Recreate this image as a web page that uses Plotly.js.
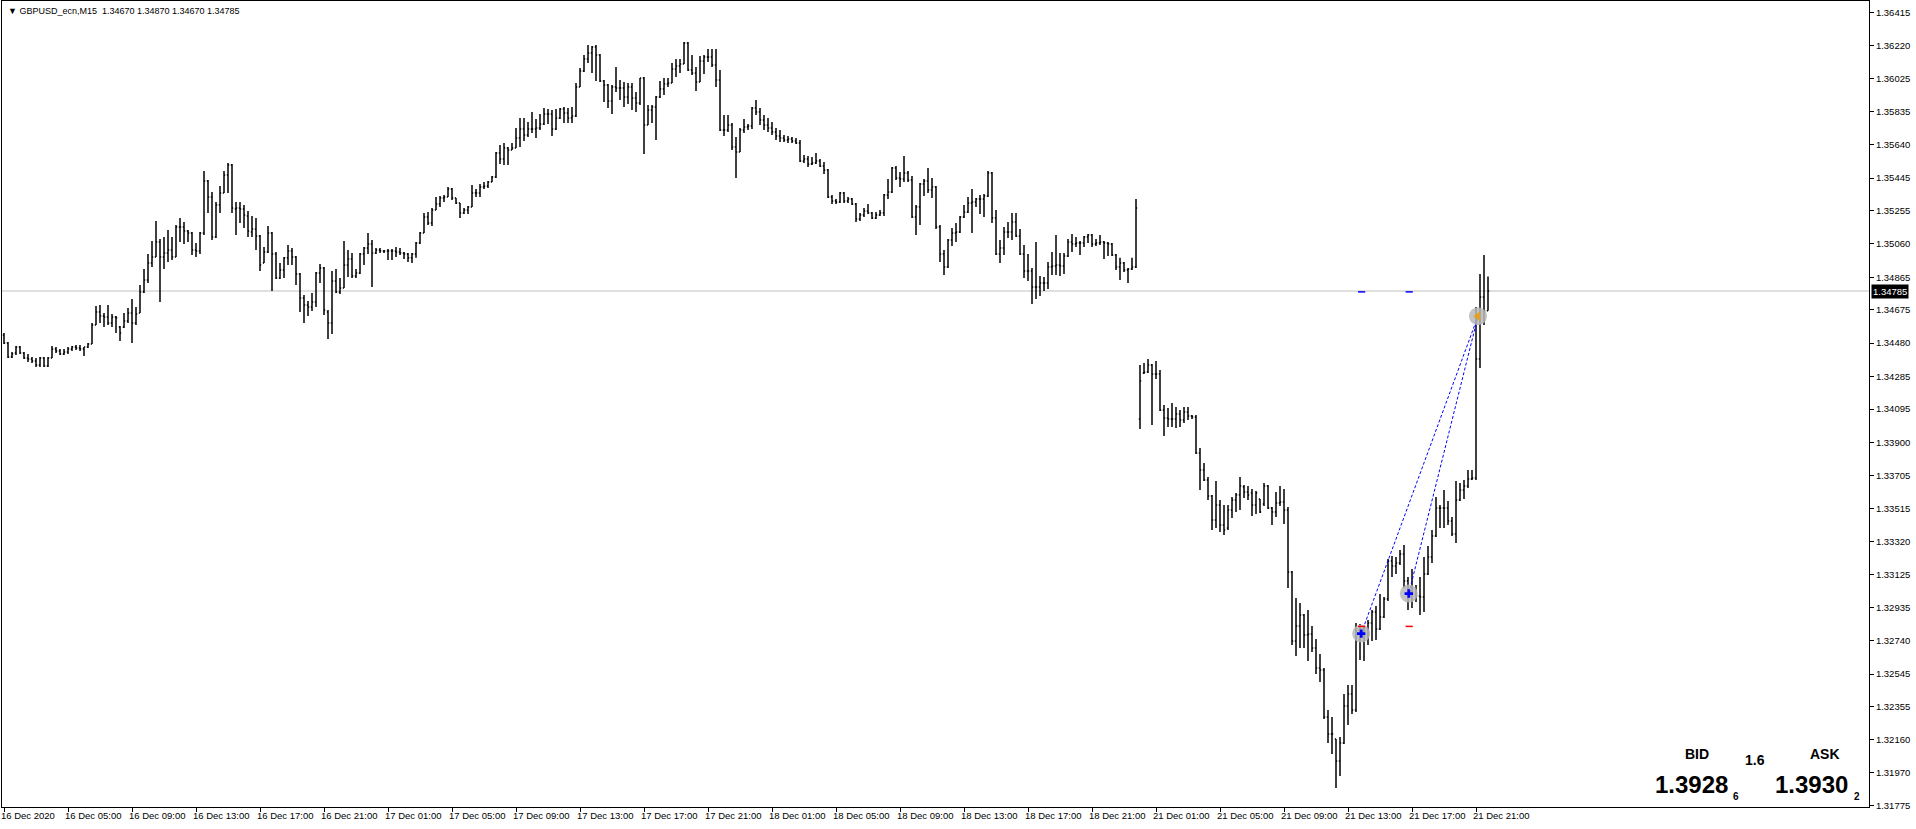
<!DOCTYPE html>
<html><head><meta charset="utf-8">
<script src="https://cdn.plot.ly/plotly-3.0.1.min.js"></script>
<style>html,body{margin:0;padding:0;background:#fff;overflow:hidden}#chart{width:1916px;height:829px}</style>
</head><body><div id="chart"></div>
<script>
const symbolName = 'GBPUSD_ecn,M15';
const opens = [
1.34528,1.34481,1.34399,1.34423,1.34458,1.34423,1.34393,1.34387,1.34376,1.34352,
1.34393,1.34347,1.34393,1.34446,1.34434,1.34417,1.34428,1.34446,1.34458,1.34452,
1.34446,1.34458,1.34475,1.34586,1.34662,1.34639,1.34633,1.34598,1.34633,1.34575,
1.34575,1.34610,1.34656,1.34598,1.34656,1.34779,1.34849,1.34949,1.34984,1.35072,
1.34984,1.35007,1.35025,1.34984,1.35159,1.35159,1.35136,1.35124,1.35025,1.35019,
1.35124,1.35428,1.35335,1.35101,1.35288,1.35358,1.35463,1.35522,1.35264,1.35270,
1.35264,1.35224,1.35130,1.35148,1.35107,1.34949,1.35013,1.35124,1.35001,1.34861,
1.34908,1.34979,1.35019,1.34984,1.34884,1.34744,1.34703,1.34691,1.34721,1.34890,
1.34920,1.34662,1.34598,1.34844,1.34779,1.34803,1.34937,1.34972,1.34873,1.34890,
1.35001,1.35037,1.35060,1.35007,1.35025,1.35019,1.35019,1.35019,1.35019,1.35013,
1.35007,1.35001,1.34979,1.35001,1.35066,1.35124,1.35218,1.35183,1.35259,1.35294,
1.35329,1.35335,1.35381,1.35329,1.35300,1.35241,1.35259,1.35276,1.35358,1.35358,
1.35393,1.35399,1.35422,1.35452,1.35592,1.35557,1.35621,1.35610,1.35621,1.35680,
1.35732,1.35697,1.35732,1.35732,1.35738,1.35762,1.35820,1.35820,1.35732,1.35797,
1.35849,1.35826,1.35797,1.35808,1.35978,1.36071,1.36142,1.36177,1.36212,1.36165,
1.36013,1.35990,1.35896,1.35978,1.35972,1.35972,1.35919,1.35978,1.35913,1.35884,
1.36030,1.35756,1.35843,1.35861,1.35919,1.35966,1.35995,1.36001,1.36083,1.36101,
1.36112,1.36235,1.36077,1.36060,1.36007,1.36130,1.36153,1.36153,1.36107,1.36019,
1.35726,1.35726,1.35756,1.35627,1.35598,1.35726,1.35744,1.35750,1.35855,1.35832,
1.35785,1.35756,1.35738,1.35715,1.35691,1.35680,1.35668,1.35674,1.35662,1.35650,
1.35545,1.35557,1.35528,1.35534,1.35545,1.35516,1.35493,1.35335,1.35311,1.35305,
1.35358,1.35311,1.35323,1.35294,1.35206,1.35229,1.35253,1.35241,1.35212,1.35229,
1.35241,1.35346,1.35364,1.35504,1.35446,1.35440,1.35475,1.35434,1.35218,1.35276,
1.35411,1.35428,1.35376,1.35393,1.35159,1.35001,1.34925,1.35083,1.35124,1.35130,
1.35218,1.35247,1.35300,1.35305,1.35323,1.35323,1.35341,1.35475,1.35212,1.35001,
1.35037,1.35130,1.35130,1.35188,1.35107,1.35001,1.34902,1.34902,1.34808,1.34808,
1.34832,1.34832,1.34925,1.34931,1.34937,1.34931,1.34990,1.35072,1.35060,1.35066,
1.35066,1.35101,1.35113,1.35060,1.35066,1.35072,1.35066,1.35060,1.34996,1.34925,
1.34949,1.34908,1.34914,1.34925,1.34037,1.34306,1.34311,1.34352,1.34300,1.34300,
1.34089,1.34042,1.34037,1.34037,1.34066,1.34031,1.34078,1.34054,1.34048,1.33838,
1.33738,1.33680,1.33586,1.33446,1.33534,1.33417,1.33399,1.33505,1.33563,1.33592,
1.33639,1.33610,1.33604,1.33534,1.33569,1.33540,1.33645,1.33516,1.33493,1.33545,
1.33551,1.33505,1.33142,1.32739,1.32826,1.32891,1.32774,1.32780,1.32698,1.32581,
1.32569,1.32294,1.32195,1.32166,1.32037,1.32142,1.32359,1.32429,1.32335,1.32803,
1.32791,1.32815,1.32844,1.32908,1.32809,1.32879,1.32984,1.33206,1.33177,1.33195,
1.33247,1.33089,1.33025,1.33014,1.33002,1.32996,1.33130,1.33230,1.33353,1.33516,
1.33516,1.33516,1.33440,1.33364,1.33563,1.33622,1.33645,1.33686,1.33692,1.34387,
1.34750,1.34670];
const highs = [
1.34540,1.34487,1.34428,1.34464,1.34464,1.34428,1.34417,1.34399,1.34393,1.34399,
1.34399,1.34399,1.34464,1.34458,1.34446,1.34446,1.34458,1.34464,1.34469,1.34469,
1.34458,1.34481,1.34598,1.34697,1.34703,1.34656,1.34703,1.34651,1.34639,1.34580,
1.34656,1.34686,1.34738,1.34691,1.34820,1.34914,1.35001,1.35077,1.35194,1.35089,
1.35101,1.35142,1.35101,1.35171,1.35212,1.35188,1.35142,1.35130,1.35066,1.35130,
1.35487,1.35434,1.35364,1.35305,1.35399,1.35487,1.35534,1.35528,1.35305,1.35305,
1.35288,1.35253,1.35224,1.35212,1.35113,1.35042,1.35165,1.35130,1.35013,1.34949,
1.34984,1.35054,1.35037,1.34990,1.34890,1.34762,1.34727,1.34773,1.34896,1.34943,
1.34925,1.34674,1.34902,1.34914,1.34861,1.35077,1.35025,1.35007,1.34914,1.35007,
1.35042,1.35124,1.35083,1.35037,1.35037,1.35025,1.35031,1.35031,1.35042,1.35037,
1.35013,1.35007,1.35007,1.35072,1.35130,1.35241,1.35247,1.35270,1.35335,1.35341,
1.35346,1.35393,1.35387,1.35329,1.35300,1.35270,1.35282,1.35405,1.35381,1.35411,
1.35422,1.35428,1.35457,1.35598,1.35639,1.35650,1.35627,1.35650,1.35738,1.35797,
1.35797,1.35773,1.35832,1.35791,1.35820,1.35855,1.35849,1.35843,1.35849,1.35855,
1.35861,1.35855,1.35861,1.36001,1.36089,1.36165,1.36223,1.36218,1.36223,1.36171,
1.36019,1.35995,1.35990,1.36095,1.36019,1.36007,1.36001,1.36001,1.35949,1.36030,
1.36036,1.35873,1.35873,1.35925,1.36013,1.36030,1.36030,1.36118,1.36142,1.36142,
1.36241,1.36241,1.36165,1.36095,1.36159,1.36165,1.36200,1.36200,1.36200,1.36077,
1.35814,1.35814,1.35767,1.35685,1.35738,1.35791,1.35762,1.35861,1.35902,1.35855,
1.35814,1.35797,1.35773,1.35738,1.35726,1.35697,1.35691,1.35685,1.35680,1.35668,
1.35580,1.35574,1.35569,1.35592,1.35557,1.35539,1.35498,1.35346,1.35323,1.35364,
1.35364,1.35335,1.35329,1.35300,1.35241,1.35270,1.35294,1.35247,1.35247,1.35259,
1.35352,1.35440,1.35510,1.35516,1.35481,1.35574,1.35487,1.35457,1.35288,1.35416,
1.35440,1.35504,1.35446,1.35399,1.35171,1.35025,1.35089,1.35153,1.35183,1.35224,
1.35288,1.35335,1.35381,1.35329,1.35346,1.35352,1.35487,1.35481,1.35259,1.35083,
1.35159,1.35188,1.35241,1.35241,1.35148,1.35054,1.35001,1.34920,1.35072,1.34873,
1.34867,1.34955,1.35013,1.35113,1.35007,1.35007,1.35089,1.35118,1.35101,1.35077,
1.35107,1.35118,1.35118,1.35089,1.35113,1.35077,1.35072,1.35066,1.35001,1.34979,
1.34955,1.34920,1.34979,1.35323,1.34352,1.34364,1.34387,1.34358,1.34376,1.34323,
1.34118,1.34101,1.34130,1.34107,1.34089,1.34107,1.34107,1.34060,1.34060,1.33867,
1.33779,1.33698,1.33592,1.33674,1.33563,1.33534,1.33534,1.33581,1.33604,1.33698,
1.33651,1.33645,1.33627,1.33616,1.33569,1.33662,1.33651,1.33522,1.33610,1.33645,
1.33627,1.33522,1.33148,1.32990,1.32961,1.32896,1.32920,1.32826,1.32750,1.32663,
1.32581,1.32335,1.32294,1.32166,1.32177,1.32429,1.32481,1.32481,1.32844,1.32838,
1.32826,1.32861,1.32920,1.32943,1.33013,1.32996,1.33218,1.33236,1.33230,1.33271,
1.33300,1.33113,1.33160,1.33066,1.33113,1.33230,1.33294,1.33388,1.33581,1.33534,
1.33622,1.33557,1.33464,1.33674,1.33662,1.33680,1.33738,1.33738,1.34691,1.34884,
1.34996,1.34870];
const lows = [
1.34475,1.34393,1.34393,1.34411,1.34417,1.34387,1.34370,1.34364,1.34341,1.34341,
1.34341,1.34341,1.34393,1.34423,1.34411,1.34411,1.34417,1.34434,1.34440,1.34434,
1.34405,1.34452,1.34475,1.34586,1.34598,1.34575,1.34586,1.34575,1.34540,1.34493,
1.34569,1.34598,1.34481,1.34586,1.34656,1.34773,1.34832,1.34925,1.34984,1.34721,
1.34914,1.34955,1.34966,1.34984,1.35072,1.35060,1.35072,1.34996,1.34984,1.35001,
1.35113,1.35241,1.35083,1.35095,1.35241,1.35358,1.35358,1.35241,1.35113,1.35183,
1.35153,1.35101,1.35101,1.35025,1.34902,1.34949,1.35007,1.34785,1.34855,1.34855,
1.34861,1.34937,1.34937,1.34820,1.34662,1.34598,1.34639,1.34668,1.34691,1.34832,
1.34645,1.34504,1.34534,1.34773,1.34768,1.34803,1.34867,1.34861,1.34861,1.34884,
1.34937,1.35001,1.34808,1.35001,1.35007,1.35007,1.34966,1.34966,1.34984,1.34996,
1.34972,1.34955,1.34949,1.34979,1.35060,1.35124,1.35171,1.35165,1.35259,1.35276,
1.35305,1.35335,1.35317,1.35294,1.35212,1.35235,1.35235,1.35276,1.35335,1.35335,
1.35381,1.35387,1.35422,1.35446,1.35528,1.35522,1.35522,1.35610,1.35621,1.35627,
1.35662,1.35685,1.35709,1.35680,1.35726,1.35756,1.35762,1.35691,1.35726,1.35791,
1.35767,1.35767,1.35767,1.35803,1.35978,1.36066,1.36118,1.36060,1.36013,1.36007,
1.35890,1.35855,1.35820,1.35949,1.35902,1.35861,1.35878,1.35843,1.35832,1.35873,
1.35586,1.35756,1.35767,1.35668,1.35913,1.35931,1.35978,1.36001,1.36036,1.36060,
1.36112,1.36071,1.36048,1.35954,1.36007,1.36054,1.36124,1.36095,1.35978,1.35721,
1.35691,1.35715,1.35610,1.35446,1.35598,1.35709,1.35726,1.35732,1.35814,1.35756,
1.35726,1.35715,1.35697,1.35668,1.35656,1.35656,1.35650,1.35650,1.35645,1.35539,
1.35534,1.35510,1.35522,1.35528,1.35510,1.35469,1.35329,1.35294,1.35294,1.35300,
1.35300,1.35300,1.35288,1.35188,1.35194,1.35218,1.35235,1.35206,1.35206,1.35224,
1.35224,1.35323,1.35358,1.35434,1.35393,1.35422,1.35422,1.35212,1.35113,1.35171,
1.35341,1.35358,1.35329,1.35148,1.34955,1.34879,1.34920,1.35048,1.35072,1.35124,
1.35212,1.35241,1.35124,1.35276,1.35235,1.35218,1.35335,1.35183,1.34996,1.34949,
1.34996,1.35095,1.35083,1.35101,1.34996,1.34861,1.34844,1.34709,1.34738,1.34756,
1.34785,1.34797,1.34879,1.34879,1.34873,1.34884,1.34984,1.35013,1.35042,1.34996,
1.35042,1.35066,1.35042,1.35048,1.35054,1.34972,1.34990,1.34990,1.34908,1.34849,
1.34896,1.34832,1.34908,1.34920,1.33978,1.34300,1.34306,1.34002,1.34270,1.34083,
1.33937,1.33990,1.33990,1.33984,1.33990,1.34013,1.34031,1.34037,1.33832,1.33622,
1.33674,1.33563,1.33388,1.33399,1.33376,1.33358,1.33388,1.33458,1.33493,1.33505,
1.33575,1.33563,1.33470,1.33481,1.33487,1.33528,1.33510,1.33417,1.33464,1.33528,
1.33423,1.33048,1.32715,1.32651,1.32698,1.32698,1.32622,1.32674,1.32546,1.32499,
1.32283,1.32142,1.32078,1.31879,1.31949,1.32136,1.32247,1.32312,1.32323,1.32628,
1.32622,1.32715,1.32739,1.32744,1.32803,1.32873,1.32972,1.33113,1.33130,1.33183,
1.33048,1.32920,1.32932,1.32966,1.32891,1.32908,1.33125,1.33195,1.33347,1.33399,
1.33399,1.33417,1.33353,1.33312,1.33557,1.33569,1.33633,1.33680,1.33680,1.34335,
1.34586,1.34670];
const closes = [
1.34481,1.34399,1.34417,1.34458,1.34423,1.34393,1.34387,1.34376,1.34352,1.34393,
1.34347,1.34393,1.34446,1.34434,1.34417,1.34428,1.34446,1.34458,1.34452,1.34446,
1.34458,1.34475,1.34586,1.34662,1.34639,1.34633,1.34598,1.34633,1.34627,1.34540,
1.34610,1.34656,1.34598,1.34651,1.34779,1.34849,1.34949,1.34984,1.35072,1.34984,
1.35007,1.35025,1.34984,1.35159,1.35159,1.35136,1.35124,1.35025,1.35019,1.35124,
1.35428,1.35335,1.35101,1.35288,1.35358,1.35463,1.35522,1.35270,1.35270,1.35264,
1.35229,1.35136,1.35148,1.35107,1.34937,1.35013,1.35124,1.35001,1.34861,1.34908,
1.34979,1.35019,1.34984,1.34884,1.34744,1.34703,1.34691,1.34721,1.34890,1.34920,
1.34674,1.34598,1.34844,1.34779,1.34803,1.34937,1.34972,1.34873,1.34890,1.35001,
1.35037,1.35060,1.35007,1.35025,1.35019,1.35019,1.35019,1.35019,1.35013,1.35007,
1.35001,1.34979,1.35001,1.35066,1.35124,1.35218,1.35183,1.35259,1.35294,1.35329,
1.35335,1.35381,1.35329,1.35300,1.35241,1.35259,1.35276,1.35358,1.35358,1.35393,
1.35399,1.35422,1.35452,1.35592,1.35557,1.35621,1.35610,1.35621,1.35680,1.35732,
1.35697,1.35732,1.35732,1.35738,1.35762,1.35820,1.35820,1.35732,1.35797,1.35849,
1.35826,1.35797,1.35808,1.35978,1.36071,1.36142,1.36177,1.36212,1.36165,1.36013,
1.35990,1.35896,1.35978,1.35972,1.35972,1.35919,1.35978,1.35913,1.35884,1.36030,
1.35756,1.35843,1.35861,1.35919,1.35966,1.35995,1.36001,1.36083,1.36101,1.36112,
1.36235,1.36077,1.36060,1.36007,1.36130,1.36153,1.36153,1.36107,1.36019,1.35726,
1.35726,1.35756,1.35627,1.35598,1.35726,1.35744,1.35750,1.35855,1.35832,1.35785,
1.35756,1.35738,1.35715,1.35691,1.35680,1.35668,1.35674,1.35662,1.35650,1.35545,
1.35557,1.35528,1.35534,1.35545,1.35516,1.35493,1.35335,1.35311,1.35305,1.35358,
1.35311,1.35323,1.35294,1.35206,1.35229,1.35253,1.35241,1.35212,1.35229,1.35241,
1.35346,1.35364,1.35504,1.35446,1.35440,1.35475,1.35434,1.35218,1.35276,1.35411,
1.35428,1.35376,1.35393,1.35159,1.35001,1.34925,1.35083,1.35124,1.35130,1.35218,
1.35247,1.35300,1.35305,1.35323,1.35323,1.35341,1.35475,1.35212,1.35001,1.35037,
1.35130,1.35130,1.35188,1.35107,1.35001,1.34902,1.34902,1.34808,1.34808,1.34832,
1.34832,1.34925,1.34931,1.34937,1.34931,1.34990,1.35072,1.35060,1.35066,1.35066,
1.35101,1.35113,1.35060,1.35066,1.35072,1.35066,1.35060,1.34996,1.34925,1.34949,
1.34908,1.34914,1.34925,1.35270,1.34259,1.34311,1.34352,1.34300,1.34300,1.34089,
1.34042,1.34037,1.34037,1.34066,1.34031,1.34078,1.34054,1.34048,1.33838,1.33738,
1.33680,1.33586,1.33446,1.33534,1.33417,1.33388,1.33505,1.33563,1.33592,1.33645,
1.33610,1.33592,1.33534,1.33604,1.33493,1.33645,1.33516,1.33493,1.33545,1.33551,
1.33505,1.33142,1.32739,1.32826,1.32891,1.32774,1.32780,1.32698,1.32581,1.32569,
1.32294,1.32195,1.32195,1.32037,1.32142,1.32359,1.32429,1.32335,1.32803,1.32791,
1.32815,1.32844,1.32908,1.32809,1.32879,1.32984,1.33206,1.33177,1.33195,1.33247,
1.33089,1.33025,1.33014,1.33002,1.32996,1.33130,1.33230,1.33353,1.33516,1.33516,
1.33516,1.33440,1.33364,1.33563,1.33622,1.33645,1.33686,1.33692,1.34387,1.34750,
1.34670,1.34785];

// time-axis labels (every 16th M15 bar)
const tickBars = [0,16,32,48,64,80,96,112,128,144,160,176,192,208,224,240,256,272,288,304,320,336,352,368];
const tickLabels = ['16 Dec 2020','16 Dec 05:00','16 Dec 09:00','16 Dec 13:00','16 Dec 17:00','16 Dec 21:00',
  '17 Dec 01:00','17 Dec 05:00','17 Dec 09:00','17 Dec 13:00','17 Dec 17:00','17 Dec 21:00',
  '18 Dec 01:00','18 Dec 05:00','18 Dec 09:00','18 Dec 13:00','18 Dec 17:00','18 Dec 21:00',
  '21 Dec 01:00','21 Dec 05:00','21 Dec 09:00','21 Dec 13:00','21 Dec 17:00','21 Dec 21:00'];
const priceTicks = [1.36415,1.36220,1.36025,1.35835,1.35640,1.35445,1.35255,1.35060,1.34865,1.34675,1.34480,1.34285,
  1.34095,1.33900,1.33705,1.33515,1.33320,1.33125,1.32935,1.32740,1.32545,1.32355,1.32160,1.31970,1.31775];

// trade objects
const tradeOpenBar = [339.3, 351.2];
const tradeOpenPrice = [1.32782, 1.33016];
const tradeCloseBar = [368.5, 368.5];
const tradeClosePrice = [1.34638, 1.34638];
const stopLossPrice = [1.32824, 1.32824];
const takeProfitPrice = [1.34780, 1.34780];

// info panel
const bidMain = '1.3928', bidSub = '6', askMain = '1.3930', askSub = '2', spreadText = '1.6';

const barIndex = opens.map((_, i) => i);
const last = opens.length - 1;
const FONT = 'Liberation Sans, Arial, sans-serif';

const traces = [{
  type: 'ohlc', x: barIndex, open: opens, high: highs, low: lows, close: closes,
  increasing: {line: {color: '#000000', width: 1.5}},
  decreasing: {line: {color: '#000000', width: 1.5}},
  tickwidth: 0.3, hoverinfo: 'skip', showlegend: false
}];
for (let k = 0; k < tradeOpenBar.length; k++) {
  traces.push({type: 'scatter', mode: 'lines', x: [tradeOpenBar[k], tradeCloseBar[k]], y: [tradeOpenPrice[k], tradeClosePrice[k]],
    line: {color: '#0000ff', width: 1, dash: '3px,2px'}, hoverinfo: 'skip', showlegend: false});
}
traces.push({type: 'scatter', mode: 'markers', x: tradeOpenBar.concat([tradeCloseBar[0]]), y: tradeOpenPrice.concat([tradeClosePrice[0]]),
  marker: {symbol: 'circle', size: 18, color: 'rgba(185,185,185,0.85)'}, hoverinfo: 'skip', showlegend: false});
traces.push({type: 'scatter', mode: 'markers', x: tradeOpenBar, y: tradeOpenPrice,
  marker: {symbol: 'cross', size: 7, color: '#0000ff'}, hoverinfo: 'skip', showlegend: false});
traces.push({type: 'scatter', mode: 'markers', x: [tradeCloseBar[0]], y: [tradeClosePrice[0]],
  marker: {symbol: 'triangle-left', size: 9, color: 'rgb(225,160,40)'}, hoverinfo: 'skip', showlegend: false});

const shapes = [{type: 'line', xref: 'paper', x0: 0, x1: 1, yref: 'y', y0: closes[last], y1: closes[last],
  line: {color: '#c0c0c0', width: 1}, layer: 'below'}];
for (let k = 0; k < tradeOpenBar.length; k++) {
  shapes.push({type: 'line', xref: 'x', x0: tradeOpenBar[k] - 0.8, x1: tradeOpenBar[k] + 1.0, yref: 'y', y0: stopLossPrice[k], y1: stopLossPrice[k], line: {color: '#ff0000', width: 1.5}});
  shapes.push({type: 'line', xref: 'x', x0: tradeOpenBar[k] - 0.8, x1: tradeOpenBar[k] + 1.0, yref: 'y', y0: takeProfitPrice[k], y1: takeProfitPrice[k], line: {color: '#0000ff', width: 1.5}});
}

const header = '\u25BC ' + symbolName + '\u00a0\u00a0' + [opens[last], highs[last], lows[last], closes[last]].map(v => v.toFixed(5)).join(' ');
function panelText(x, y, text, size) {
  return {xref: 'paper', yref: 'paper', x: x, y: y, xanchor: 'center', yanchor: 'middle', showarrow: false,
    text: '<b>' + text + '</b>', font: {family: FONT, size: size, color: '#000'}};
}
const annotations = [
  {xref: 'paper', yref: 'paper', x: 0, y: 1, xanchor: 'left', yanchor: 'middle', xshift: 4, yshift: -10, showarrow: false,
   text: header, font: {family: FONT, size: 9, color: '#000'}},
  {xref: 'paper', yref: 'y', x: 1, y: closes[last], xanchor: 'left', yanchor: 'middle', xshift: 2, showarrow: false,
   text: closes[last].toFixed(5), bgcolor: '#000000', borderpad: 1, font: {family: FONT, size: 9.5, color: '#ffffff'}},
  panelText(0.9079, 0.0658, 'BID', 14),
  panelText(0.9387, 0.0589, spreadText, 14),
  panelText(0.9764, 0.0658, 'ASK', 14),
  panelText(0.9050, 0.0285, bidMain, 24),
  panelText(0.9288, 0.0136, bidSub, 10),
  panelText(0.9693, 0.0285, askMain, 24),
  panelText(0.9934, 0.0136, askSub, 10)
];

const layout = {
  width: 1916, height: 829,
  margin: {l: 2, r: 47, t: 1, b: 22, pad: 0},
  paper_bgcolor: '#ffffff', plot_bgcolor: '#ffffff',
  showlegend: false,
  xaxis: {
    range: [-0.5, 466.25], tickmode: 'array', tickvals: tickBars, ticktext: tickLabels,
    ticks: 'outside', ticklen: 4, tickcolor: '#000', tickwidth: 1, tickangle: 0,
    ticklabelposition: 'outside right', ticklabelshift: -4,
    showline: true, linecolor: '#000', linewidth: 1, mirror: true,
    showgrid: false, zeroline: false, rangeslider: {visible: false}, fixedrange: true,
    tickfont: {family: FONT, size: 9.5, color: '#000'}
  },
  yaxis: {
    side: 'right', range: [1.31768, 1.364807], tickmode: 'array', tickvals: priceTicks,
    ticktext: priceTicks.map(v => v.toFixed(5)),
    ticks: 'outside', ticklen: 4, tickcolor: '#000', tickwidth: 1,
    showline: true, linecolor: '#000', linewidth: 1, mirror: true,
    showgrid: false, zeroline: false, fixedrange: true,
    tickfont: {family: FONT, size: 9.5, color: '#000'}
  },
  shapes: shapes,
  annotations: annotations
};

Plotly.newPlot('chart', traces, layout, {displayModeBar: false, staticPlot: true});
</script>
</body></html>
